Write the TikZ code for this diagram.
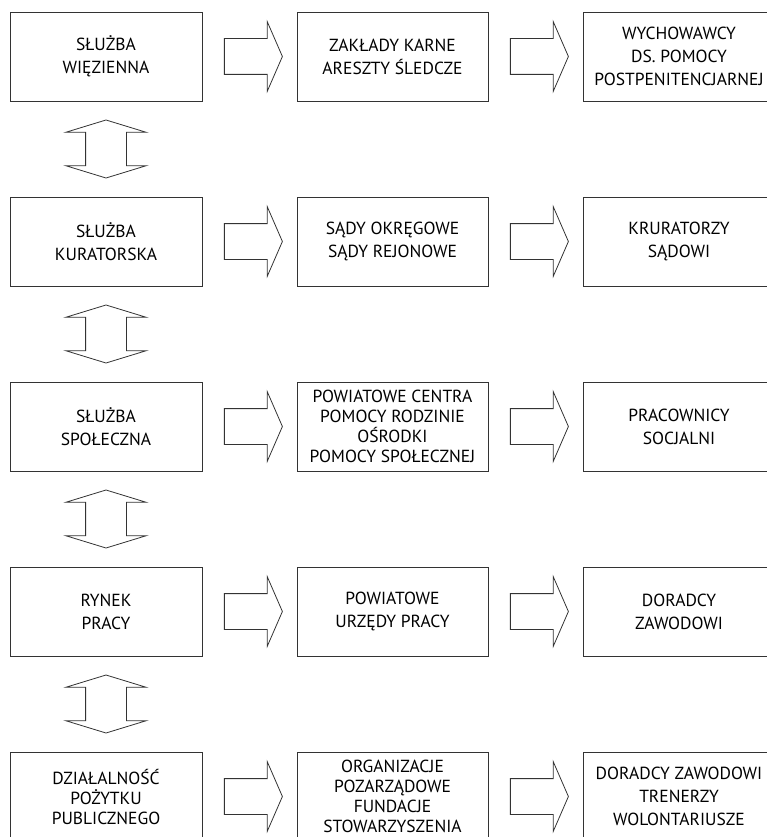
\documentclass[tikz,border=0pt]{standalone}
\usepackage{fontspec}
\setmainfont{PT Sans}
\usetikzlibrary{shapes.arrows,calc}

\begin{document}
\begin{tikzpicture}[x=1pt,y=-1pt,
  box/.style={draw=black!80,line width=0.8pt,minimum width=192pt,minimum height=89pt,
    inner sep=0pt,align=center,font=\fontsize{17.5}{23}\selectfont},
  tight/.style={font=\fontsize{17.5}{20}\selectfont},
  harrow/.style={draw=black!80,line width=0.8pt,single arrow,inner xsep=0pt,inner ysep=17.5pt,
    minimum height=58pt,single arrow head extend=17pt,
    single arrow tip angle=133},
  varrow/.style={draw=black!80,line width=0.8pt,double arrow,inner xsep=0pt,inner ysep=20pt,rotate=90,
    minimum height=58pt,double arrow head extend=19.5pt,
    double arrow tip angle=146}]
\useasboundingbox (0,0) rectangle (767,837);

\node[box] (sw) at (106,56.5) {SŁUŻBA\\WIĘZIENNA};
\node[box,minimum width=191pt] (zk) at (392.5,56.5) {ZAKŁADY KARNE\\ARESZTY ŚLEDCZE};
\node[box] (wy) at (679,56.5) {WYCHOWAWCY\\DS. POMOCY\\POSTPENITENCJARNEJ};

\node[box] (sk) at (106,241.5) {SŁUŻBA\\KURATORSKA};
\node[box,minimum width=191pt] (so) at (392.5,241.5) {SĄDY OKRĘGOWE\\SĄDY REJONOWE};
\node[box] (ks) at (679,241.5) {KRURATORZY\\SĄDOWI};

\node[box] (ss) at (106,426.5) {SŁUŻBA\\SPOŁECZNA};
\node[box,tight,minimum width=191pt] (pc) at (392.5,426.5) {POWIATOWE CENTRA\\POMOCY RODZINIE\\OŚRODKI\\POMOCY SPOŁECZNEJ};
\node[box] (ps) at (679,426.5) {PRACOWNICY\\SOCJALNI};

\node[box] (rp) at (106,611.5) {RYNEK\\PRACY};
\node[box,minimum width=191pt] (pu) at (392.5,611.5) {POWIATOWE\\URZĘDY PRACY};
\node[box] (dz) at (679,611.5) {DORADCY\\ZAWODOWI};

\node[box,tight] (dp) at (106,796.5) {DZIAŁALNOŚĆ\\POŻYTKU\\PUBLICZNEGO};
\node[box,tight,minimum width=191pt] (op) at (392.5,796.5) {ORGANIZACJE\\POZARZĄDOWE\\FUNDACJE\\STOWARZYSZENIA};
\node[box] (dw) at (679,796.5) {DORADCY ZAWODOWI\\TRENERZY\\WOLONTARIUSZE};

% strzalki poziome
\node[harrow] (h1) at ($(sw.east)!.5!(zk.west)$) {};
\node[harrow] (h2) at ($(zk.east)!.5!(wy.west)$) {};
\node[harrow] (h3) at ($(sk.east)!.5!(so.west)$) {};
\node[harrow] (h4) at ($(so.east)!.5!(ks.west)$) {};
\node[harrow] (h5) at ($(ss.east)!.5!(pc.west)$) {};
\node[harrow] (h6) at ($(pc.east)!.5!(ps.west)$) {};
\node[harrow] (h7) at ($(rp.east)!.5!(pu.west)$) {};
\node[harrow] (h8) at ($(pu.east)!.5!(dz.west)$) {};
\node[harrow] (h9) at ($(dp.east)!.5!(op.west)$) {};
\node[harrow] (h10) at ($(op.east)!.5!(dw.west)$) {};

% strzalki pionowe
\node[varrow] (v1) at ($(sw.south)!.5!(sk.north)$) {};
\node[varrow] (v2) at ($(sk.south)!.5!(ss.north)$) {};
\node[varrow] (v3) at ($(ss.south)!.5!(rp.north)$) {};
\node[varrow] (v4) at ($(rp.south)!.5!(dp.north)$) {};
\end{tikzpicture}
\end{document}
